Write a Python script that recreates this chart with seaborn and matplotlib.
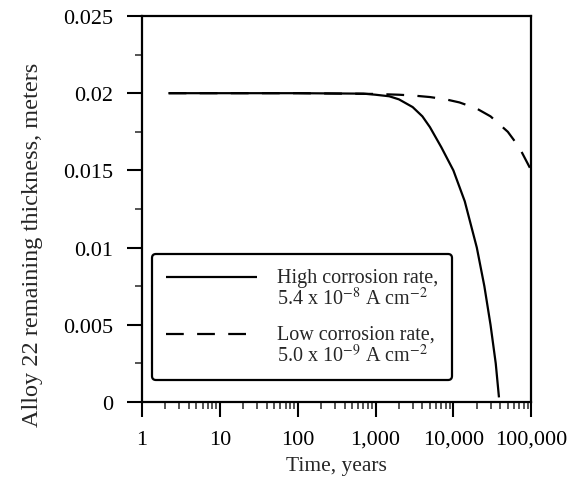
import matplotlib
matplotlib.use("Agg")
import matplotlib.pyplot as plt
import matplotlib.ticker as mticker
from matplotlib.legend_handler import HandlerLine2D
import pandas as pd
import seaborn as sns

# values
years_high = [2.2, 100, 700, 1000, 1500, 2000, 3000, 4000, 5000, 7000, 10000,
              14000, 20000, 25000, 30000, 35000, 38500]
thick_high = [0.02, 0.02, 0.01997, 0.0199, 0.0198, 0.0196, 0.0191, 0.0185, 0.0178,
              0.0165, 0.0150, 0.0130, 0.0100, 0.0075, 0.0050, 0.0025, 0.0003]
years_low = [2.2, 100, 1000, 2000, 3000, 5000, 8000, 12000, 20000, 30000, 50000,
             70000, 100000]
thick_low = [0.02, 0.02, 0.01995, 0.0199, 0.01985, 0.01975, 0.0196, 0.0194, 0.0190,
             0.0185, 0.0175, 0.0165, 0.0150]

LABEL_HIGH = "High corrosion rate,\n5.4 x 10$^{-8}$ A cm$^{-2}$"
LABEL_LOW = "Low corrosion rate,\n5.0 x 10$^{-9}$ A cm$^{-2}$"

x_ticks = [1, 10, 100, 1000, 10000, 100000]
x_labels = ["1", "10", "100", "1,000", "10,000", "100,000"]
y_ticks = [0, 0.005, 0.01, 0.015, 0.02, 0.025]
y_labels = ["0", "0.005", "0.01", "0.015", "0.02", "0.025"]

df = pd.concat([
    pd.DataFrame({"years": years_high, "thick": thick_high, "case": LABEL_HIGH}),
    pd.DataFrame({"years": years_low, "thick": thick_low, "case": LABEL_LOW}),
])


class TopLineHandler(HandlerLine2D):
    # put the legend line level with the first text line
    def create_artists(self, legend, orig_handle, xdescent, ydescent, width,
                       height, fontsize, trans):
        arts = super().create_artists(legend, orig_handle, xdescent, ydescent,
                                      width, height, fontsize, trans)
        for a in arts:
            a.set_ydata([y + 0.55 * fontsize for y in a.get_ydata()])
        return arts


sns.set_style("ticks")
plt.rcParams["font.family"] = ["Liberation Serif", "DejaVu Serif"]
plt.rcParams["mathtext.fontset"] = "stix"

fig = plt.figure(figsize=(5.7, 4.85), dpi=100)
ax = fig.add_axes([0.249, 0.169, 0.683, 0.796])

sns.lineplot(data=df, x="years", y="thick", hue="case", style="case",
             palette=["black", "black"], dashes=[(1, 0), (8, 6)],
             linewidth=1.6, sort=False, estimator=None, ax=ax)

ax.set_xscale("log")
ax.set_xlim(1, 100000)
ax.set_ylim(0, 0.025)
ax.set_xticks(x_ticks)
ax.set_xticklabels(x_labels)
ax.xaxis.set_minor_locator(mticker.LogLocator(base=10, subs=range(2, 10), numticks=20))
ax.xaxis.set_minor_formatter(mticker.NullFormatter())
ax.set_yticks(y_ticks)
ax.set_yticklabels(y_labels)
ax.yaxis.set_minor_locator(mticker.MultipleLocator(0.0025))

ax.tick_params(axis="both", which="major", direction="out", length=11, width=1.5,
               labelsize=16, colors="black")
ax.tick_params(axis="x", which="major", pad=9)
ax.tick_params(axis="y", which="major", pad=10)
ax.tick_params(axis="both", which="minor", direction="out", length=5, width=1.1)
for sp in ax.spines.values():
    sp.set_visible(True)
    sp.set_linewidth(1.6)
    sp.set_color("black")

ax.set_xlabel("Time, years", fontsize=15.5, labelpad=5)
ax.set_ylabel("Alloy 22 remaining thickness, meters", fontsize=17.5)
ax.yaxis.set_label_coords(-0.255, 0.41)

handles, labels = ax.get_legend_handles_labels()
leg = ax.legend(handles, labels, loc="lower left", bbox_to_anchor=(0.026, 0.057),
                borderaxespad=0, fontsize=14.5, frameon=True, fancybox=True,
                edgecolor="black", handlelength=4.5, handletextpad=1.0,
                labelspacing=0.8, borderpad=0.7, title=None,
                handler_map={h: TopLineHandler() for h in handles})
leg.get_frame().set_linewidth(1.6)
leg.get_frame().set_alpha(1)
for t in leg.get_texts():
    t.set_linespacing(1.0)

fig.savefig("out.png", dpi=100)
